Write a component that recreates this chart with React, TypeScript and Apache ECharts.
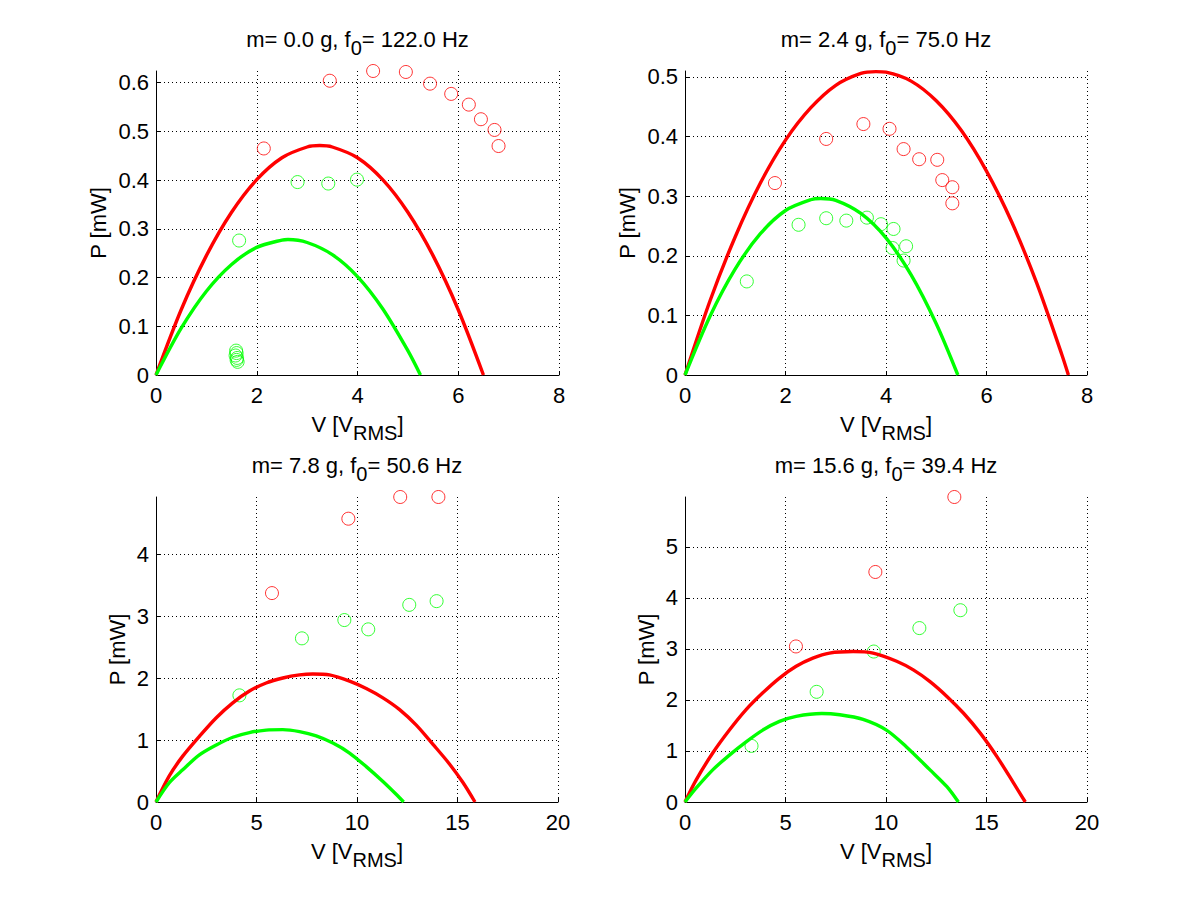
import React, { useEffect, useRef } from 'react';
import * as echarts from 'echarts';

const FONT = '"Liberation Sans", Arial, Helvetica, sans-serif';

// panel metadata
const masses = ['0.0', '2.4', '7.8', '15.6'];
const freqs = ['122.0', '75.0', '50.6', '39.4'];
const xMaxes = [8, 8, 20, 20];
const xSteps = [2, 2, 5, 5];
const yMaxes = [0.624, 0.51, 4.92, 5.98];
const ySteps = [0.1, 0.1, 1, 1];

// panel 1: m = 0.0 g
const redCurve1 = [[0, 0], [0.5, 0.134], [1, 0.245], [1.5, 0.334], [2, 0.401], [2.5, 0.446], [3, 0.468], [3.25, 0.471], [3.5, 0.468], [4, 0.446], [4.5, 0.401], [5, 0.334], [5.5, 0.245], [6, 0.134], [6.5, 0]];
const greenCurve1 = [[0, 0], [0.5, 0.096], [1, 0.172], [1.5, 0.227], [2, 0.262], [2.5, 0.277], [2.62, 0.278], [3, 0.272], [3.5, 0.247], [4, 0.202], [4.5, 0.136], [5, 0.05], [5.25, 0]];
const redPts1 = [[2.14, 0.465], [3.45, 0.604], [4.31, 0.624], [4.96, 0.622], [5.44, 0.598], [5.86, 0.577], [6.21, 0.555], [6.45, 0.525], [6.72, 0.503], [6.8, 0.47]];
const greenPts1 = [[1.65, 0.276], [2.81, 0.396], [3.42, 0.393], [3.99, 0.401], [1.59, 0.05], [1.6, 0.045], [1.58, 0.04], [1.61, 0.035], [1.6, 0.031], [1.62, 0.027]];

// panel 2: m = 2.4 g
const redCurve2 = [[0, 0], [0.5, 0.125], [1, 0.232], [1.5, 0.322], [2, 0.394], [2.5, 0.448], [3, 0.486], [3.5, 0.506], [3.8, 0.509], [4, 0.508], [4.5, 0.493], [5, 0.46], [5.5, 0.41], [6, 0.342], [6.5, 0.257], [7, 0.154], [7.5, 0.034], [7.63, 0]];
const greenCurve2 = [[0, 0], [0.5, 0.099], [1, 0.178], [1.5, 0.237], [2, 0.276], [2.5, 0.294], [2.7, 0.296], [3, 0.293], [3.5, 0.271], [4, 0.23], [4.5, 0.168], [5, 0.086], [5.43, 0]];
const redPts2 = [[1.79, 0.322], [2.81, 0.396], [3.55, 0.421], [4.07, 0.413], [4.35, 0.379], [4.66, 0.362], [5.02, 0.361], [5.12, 0.327], [5.32, 0.315], [5.32, 0.288]];
const greenPts2 = [[1.23, 0.157], [2.26, 0.252], [2.81, 0.263], [3.21, 0.259], [3.62, 0.264], [3.9, 0.253], [4.15, 0.245], [4.13, 0.213], [4.4, 0.216], [4.35, 0.192]];

// panel 3: m = 7.8 g
const redCurve3 = [[0, 0], [0.66, 0.42], [1.33, 0.74], [2.16, 1.06], [3.0, 1.36], [3.82, 1.6], [4.65, 1.79], [5.48, 1.92], [6.31, 2.0], [7.14, 2.05], [7.8, 2.065], [8.63, 2.05], [9.63, 1.95], [10.46, 1.83], [11.29, 1.68], [12.12, 1.49], [12.95, 1.24], [13.78, 0.93], [14.61, 0.61], [15.28, 0.31], [15.87, 0]];
const greenCurve3 = [[0, 0], [0.66, 0.31], [1.33, 0.52], [2.16, 0.76], [3.0, 0.92], [3.82, 1.045], [4.65, 1.12], [5.48, 1.16], [6.31, 1.167], [7.14, 1.135], [7.97, 1.066], [8.8, 0.95], [9.63, 0.79], [10.46, 0.57], [11.29, 0.33], [11.96, 0.12], [12.32, 0]];
const redPts3 = [[5.77, 3.37], [9.57, 4.57], [12.15, 4.92], [14.05, 4.92]];
const greenPts3 = [[4.15, 1.72], [7.26, 2.64], [9.37, 2.935], [10.56, 2.785], [12.6, 3.18], [13.96, 3.24]];

// panel 4: m = 15.6 g
const redCurve4 = [[0, 0], [0.55, 0.43], [1.38, 0.96], [2.21, 1.41], [3.04, 1.81], [3.87, 2.14], [4.7, 2.43], [5.53, 2.66], [6.36, 2.82], [7.19, 2.92], [8.36, 2.95], [9.36, 2.92], [10.53, 2.76], [11.36, 2.59], [12.19, 2.36], [13.03, 2.07], [13.86, 1.74], [14.69, 1.35], [15.52, 0.89], [16.35, 0.37], [16.93, 0]];
const greenCurve4 = [[0, 0], [0.55, 0.27], [1.38, 0.63], [2.21, 0.92], [3.04, 1.18], [3.87, 1.41], [4.7, 1.58], [5.53, 1.68], [6.8, 1.735], [7.7, 1.71], [8.86, 1.62], [10.02, 1.41], [11.02, 1.08], [12.19, 0.63], [13.03, 0.3], [13.6, 0]];
const redPts4 = [[5.52, 3.05], [9.47, 4.51], [13.4, 5.98]];
const greenPts4 = [[3.31, 1.1], [6.55, 2.16], [9.39, 2.95], [11.66, 3.41], [13.7, 3.76]];

const redCurves = [redCurve1, redCurve2, redCurve3, redCurve4];
const greenCurves = [greenCurve1, greenCurve2, greenCurve3, greenCurve4];
const redPts = [redPts1, redPts2, redPts3, redPts4];
const greenPts = [greenPts1, greenPts2, greenPts3, greenPts4];

const RED = '#ff0000';
const GREEN = '#00ff00';

const grids = [
  { left: 156, top: 71, width: 403, height: 304 },
  { left: 685, top: 71, width: 402, height: 304 },
  { left: 156, top: 497, width: 402, height: 305 },
  { left: 685, top: 497, width: 402, height: 305 },
];
const titleTops = [28, 28, 454, 454];
const yNameGaps = [46, 46, 27, 27];

const richMain = { fontSize: 22, fontFamily: FONT, color: '#000', lineHeight: 24, verticalAlign: 'top' as const };
const richSub = { fontSize: 20, fontFamily: FONT, color: '#000', lineHeight: 20, padding: [10, 0, 0, 0], verticalAlign: 'top' as const };

export default function App() {
  const ref = useRef<HTMLDivElement>(null);
  useEffect(() => {
    if (!ref.current) return;
    const chart = echarts.init(ref.current, undefined, { renderer: 'svg' });
    const xAxis: any[] = [];
    const yAxis: any[] = [];
    const series: any[] = [];
    const graphic: any[] = [];
    grids.forEach((g, i) => {
      xAxis.push({
        type: 'value', gridIndex: i, min: 0, max: xMaxes[i], interval: xSteps[i],
        name: '{a|V [V}{s|RMS}{a|]}', nameLocation: 'middle', nameGap: 38,
        nameTextStyle: { rich: { a: richMain, s: richSub } },
        axisLine: { show: true, onZero: false, lineStyle: { color: '#000', width: 1 } },
        axisTick: { show: true, inside: true, length: 4, lineStyle: { color: '#000' } },
        axisLabel: { color: '#000', fontSize: 22, fontFamily: FONT, margin: 9 },
        splitLine: { show: true, showMinLine: false, lineStyle: { color: '#000', width: 1, type: [1, 3] } },
      });
      yAxis.push({
        type: 'value', gridIndex: i, min: 0, max: yMaxes[i], interval: ySteps[i],
        name: 'P [mW]', nameLocation: 'middle', nameGap: yNameGaps[i],
        nameTextStyle: { color: '#000', fontSize: 22, fontFamily: FONT, lineHeight: 24 },
        axisLine: { show: true, onZero: false, lineStyle: { color: '#000', width: 1 } },
        axisTick: { show: true, inside: true, length: 4, lineStyle: { color: '#000' } },
        axisLabel: { color: '#000', fontSize: 22, fontFamily: FONT, margin: 7, showMaxLabel: false },
        splitLine: { show: true, showMinLine: false, showMaxLine: false, lineStyle: { color: '#000', width: 1, type: [1, 3] } },
      });
      const lineBase = { type: 'line', xAxisIndex: i, yAxisIndex: i, showSymbol: false, symbol: 'none', silent: true, smooth: 0.3 };
      series.push({ ...lineBase, data: redCurves[i], lineStyle: { color: RED, width: 3.4 }, itemStyle: { color: RED } });
      series.push({ ...lineBase, data: greenCurves[i], lineStyle: { color: GREEN, width: 3.4 }, itemStyle: { color: GREEN } });
      const scBase = { type: 'scatter', xAxisIndex: i, yAxisIndex: i, symbol: 'circle', symbolSize: 13, silent: true, clip: false };
      series.push({ ...scBase, data: redPts[i], itemStyle: { color: 'rgba(0,0,0,0)', borderColor: RED, borderWidth: 1 } });
      series.push({ ...scBase, data: greenPts[i], itemStyle: { color: 'rgba(0,0,0,0)', borderColor: GREEN, borderWidth: 1 } });
      graphic.push({
        type: 'text', x: g.left + g.width / 2, y: titleTops[i], silent: true,
        style: {
          text: `{a|m= ${masses[i]} g, f}{s|0}{a|= ${freqs[i]} Hz}`,
          rich: { a: richMain, s: richSub },
          align: 'center', verticalAlign: 'top',
        },
      });
    });
    chart.setOption({
      animation: false,
      backgroundColor: '#fff',
      grid: grids.map((g) => ({ ...g, containLabel: false })),
      xAxis, yAxis, series, graphic,
    });
    return () => chart.dispose();
  }, []);
  return <div ref={ref} style={{ position: 'fixed', left: 0, top: 0, width: 1201, height: 901, background: '#fff' }} />;
}
